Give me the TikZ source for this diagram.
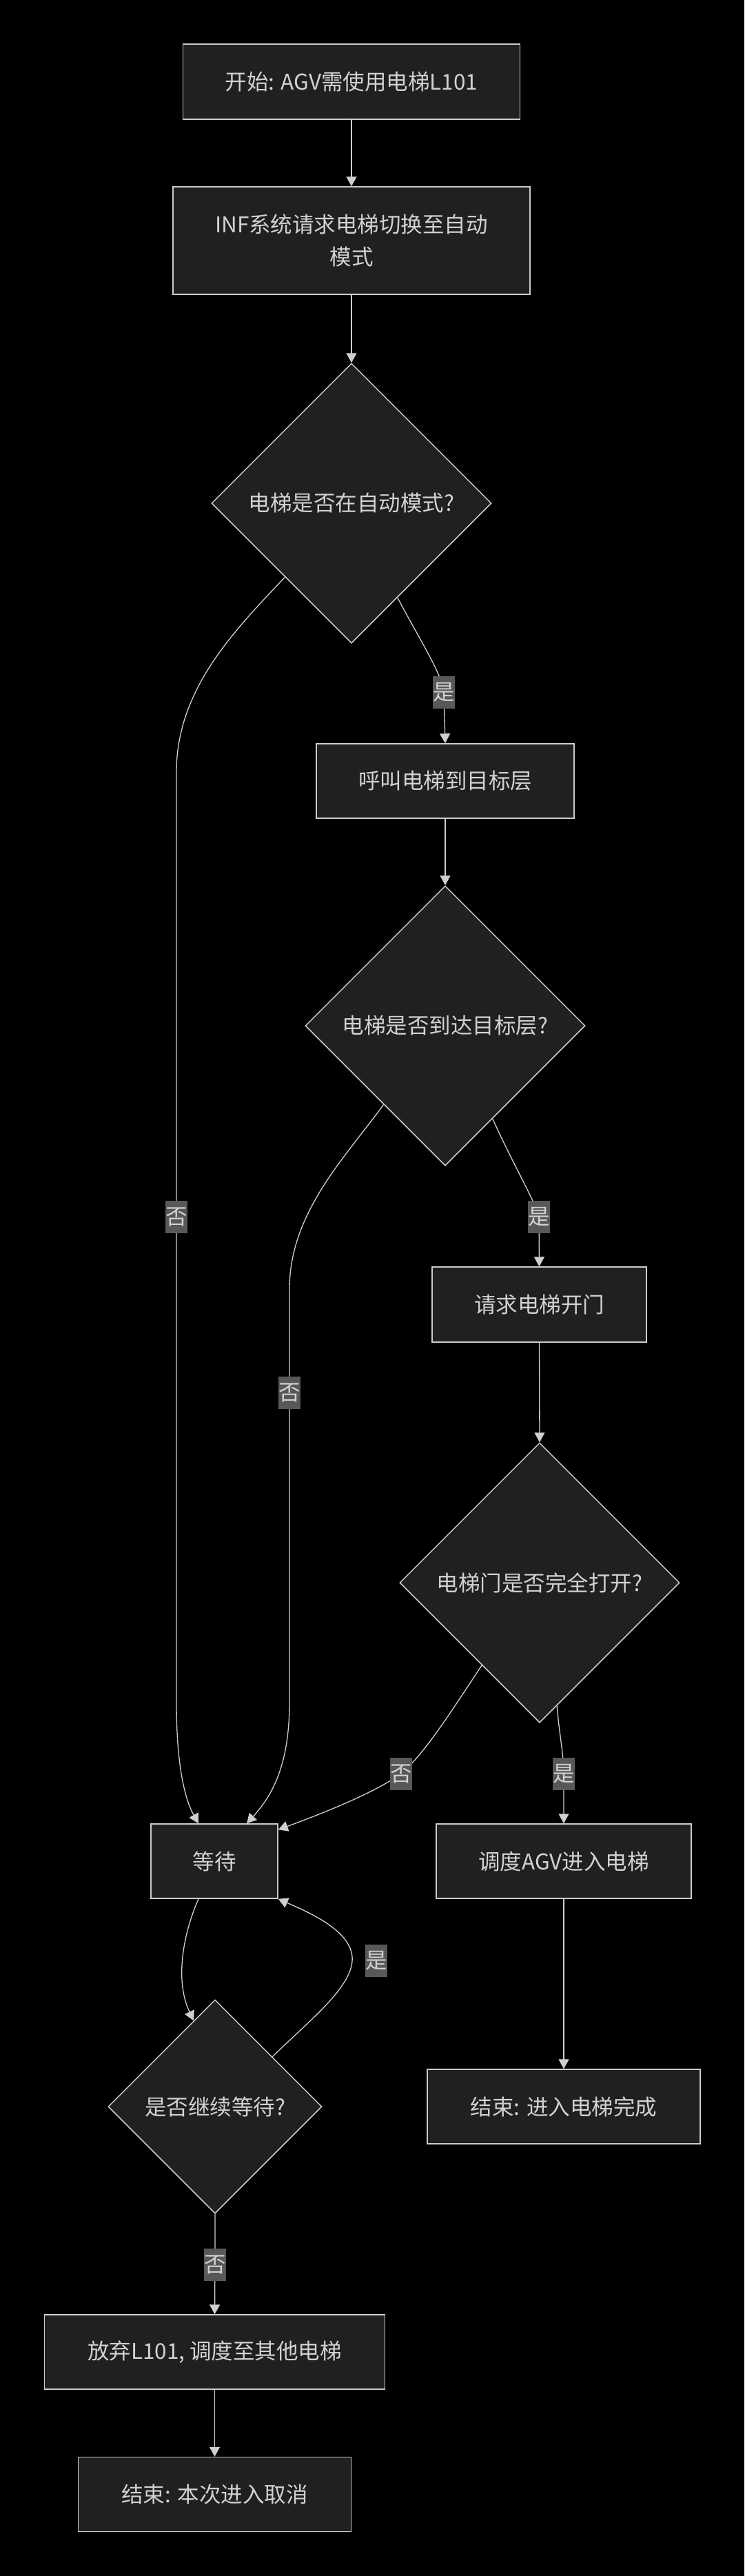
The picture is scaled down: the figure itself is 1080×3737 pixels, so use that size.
\documentclass[tikz,border=0pt]{standalone}
\usepackage{fontspec}
\setmainfont{Noto Sans CJK SC}
\usetikzlibrary{shapes.geometric,arrows.meta,calc}
\definecolor{nodefill}{HTML}{1F2020}
\definecolor{nodeline}{HTML}{CCCCCC}
\definecolor{txtcol}{HTML}{D2D2D2}
\definecolor{edgecol}{HTML}{CFCFCF}
\definecolor{lblfill}{HTML}{585858}
\newcommand\nodefont{\fontsize{31.5}{47}\selectfont}
\pgfdeclarelayer{bglayer}
\pgfdeclarelayer{edgelayer}
\pgfsetlayers{bglayer,edgelayer,main}
\begin{document}
\begin{tikzpicture}[x=1pt,y=-1pt,
  box/.style={draw=nodeline, line width=1.5pt, fill=nodefill, text=txtcol, inner sep=0pt, minimum height=108pt, font=\nodefont},
  dia/.style={diamond, draw=nodeline, line width=1.5pt, fill=nodefill, text=txtcol, inner sep=0pt, minimum width=406pt, minimum height=406pt, font=\nodefont},
  lbl/.style={fill=lblfill, text=txtcol, inner sep=0pt, minimum width=32pt, minimum height=47pt, font=\nodefont},
  conn/.style={draw=edgecol, line width=1.3pt, -{Triangle[length=14pt,width=15pt]}}]

\begin{pgfonlayer}{bglayer}
\fill[black] (0,0) rectangle (1080,3737);
\end{pgfonlayer}
\useasboundingbox (0,0) rectangle (1080,3737);

% nodes
\node[box, minimum width=489pt, minimum height=109pt] (start) at (510,118.5) {开始: AGV需使用电梯L101};
\node[box, minimum width=518pt, minimum height=156pt, align=center] (inf) at (510,349) {INF系统请求电梯切换至自动\\模式};
\node[dia] (d1) at (510,730) {电梯是否在自动模式?};
\node[box, minimum width=374pt] (hu) at (646,1133) {呼叫电梯到目标层};
\node[dia] (d2) at (646,1488) {电梯是否到达目标层?};
\node[box, minimum width=311pt, minimum height=109pt] (qq) at (782.5,1892.5) {请求电梯开门};
\node[dia] (d3) at (783,2296) {电梯门是否完全打开?};
\node[box, minimum width=184pt] (wait) at (311,2700) {等待};
\node[box, minimum width=370pt] (disp) at (818,2700) {调度AGV进入电梯};
\node[dia, minimum width=310pt, minimum height=310pt] (d4) at (312,3056) {是否继续等待?};
\node[box, minimum width=396pt] (endok) at (818,3056) {结束: 进入电梯完成};
\node[box, minimum width=494pt] (give) at (311.5,3412) {放弃L101, 调度至其他电梯};
\node[box, minimum width=396pt] (endc) at (311.5,3618.5) {结束: 本次进入取消};

% edge labels
\node[lbl] (l1) at (644,1004) {是};
\node[lbl] (l2) at (256,1765) {否};
\node[lbl] (l3) at (782,1765) {是};
\node[lbl] (l4) at (420,2020) {否};
\node[lbl] (l5) at (582,2573) {否};
\node[lbl] (l6) at (818,2573) {是};
\node[lbl] (l7) at (546,2844) {是};
\node[lbl] (l8) at (312,3285) {否};

% connectors
\begin{pgfonlayer}{edgelayer}
\draw[conn] (start.south) -- (inf.north);
\draw[conn] (inf.south) -- (d1.north);
\draw[conn] (d1.-64) .. controls (610,930) and (640,975) .. (l1.center) -- (hu.north);
\draw[conn] (d1.-132.5) .. controls (340,915) and (256,1000) .. (256,1120) -- (l2.center) -- (256,2470) .. controls (256,2560) and (268,2610) .. ($(wait.north)+(-23,0)$);
\draw[conn] (hu.south) -- (d2.north);
\draw[conn] (d2.-128.6) .. controls (500,1680) and (420,1760) .. (420,1870) -- (l4.center) -- (420,2470) .. controls (420,2560) and (395,2605) .. ($(wait.north)+(47,0)$);
\draw[conn] (d2.-63.9) .. controls (745,1690) and (775,1740) .. (l3.center) -- (qq.north);
\draw[conn] (qq.south) -- (d3.north);
\draw[conn] (d3.-125.3) .. controls (650,2490) and (615,2545) .. (l5.center) .. controls (545,2600) and (470,2630) .. ($(wait.north east)+(0,9)$);
\draw[conn] (d3.-82.8) .. controls (812,2520) and (818,2545) .. (l6.center) -- (disp.north);
\draw[conn] (disp.south) -- (endok.north);
\draw[conn] ($(wait.south)+(-23,0)$) .. controls (268,2800) and (252,2870) .. (d4.104.3);
\draw[conn] (d4.41.8) .. controls (450,2930) and (515,2880) .. (511,2838) .. controls (507,2800) and (450,2775) .. (wait.south east);
\draw[conn] (d4.south) -- (l8.center) -- (give.north);
\draw[conn] (give.south) -- (endc.north);
\end{pgfonlayer}
\end{tikzpicture}
\end{document}
